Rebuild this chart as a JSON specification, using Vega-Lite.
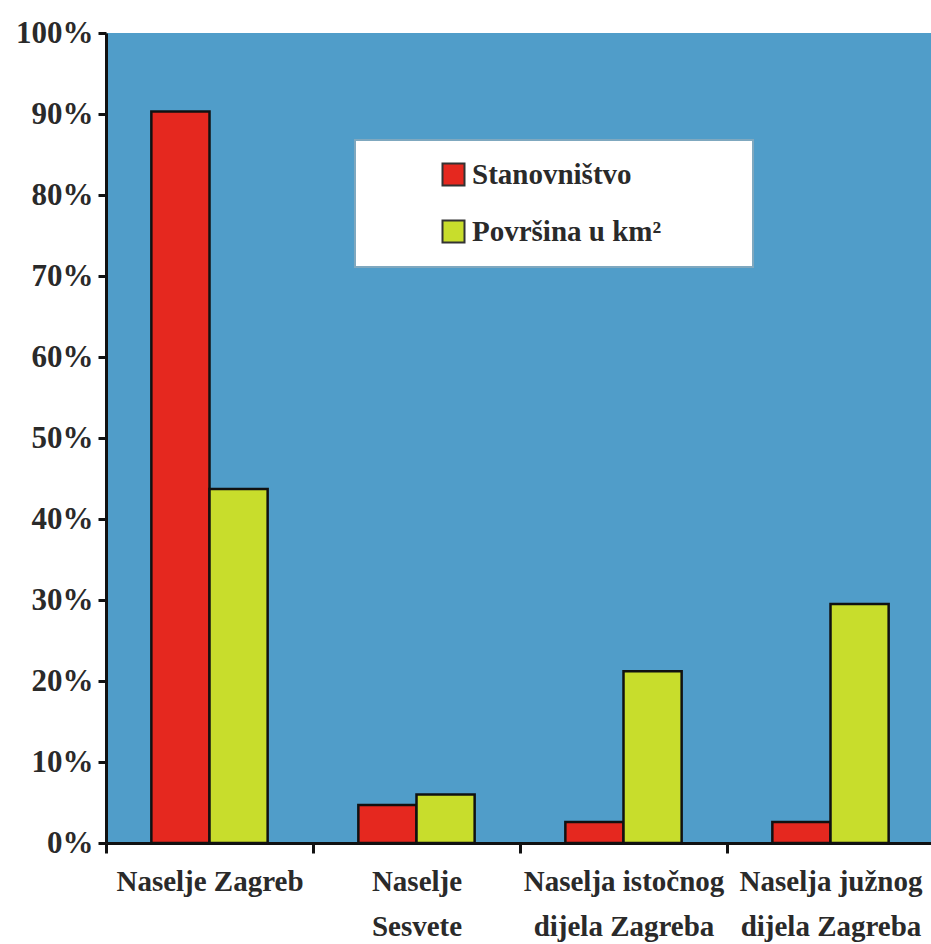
{
  "$schema": "https://vega.github.io/schema/vega-lite/v6.json",
  "autosize": "none",
  "width": 828,
  "height": 810,
  "padding": {"left": 106, "top": 33, "right": 0, "bottom": 101},
  "background": "white",
  "data": {
    "values": [
      {"kategorija": "Naselje Zagreb", "serija": "Stanovništvo", "vrijednost": 0.903},
      {"kategorija": "Naselje Zagreb", "serija": "Površina u km²", "vrijednost": 0.437},
      {"kategorija": "Naselje Sesvete", "serija": "Stanovništvo", "vrijednost": 0.047},
      {"kategorija": "Naselje Sesvete", "serija": "Površina u km²", "vrijednost": 0.060},
      {"kategorija": "Naselja istočnog dijela Zagreba", "serija": "Stanovništvo", "vrijednost": 0.026},
      {"kategorija": "Naselja istočnog dijela Zagreba", "serija": "Površina u km²", "vrijednost": 0.212},
      {"kategorija": "Naselja južnog dijela Zagreba", "serija": "Stanovništvo", "vrijednost": 0.026},
      {"kategorija": "Naselja južnog dijela Zagreba", "serija": "Površina u km²", "vrijednost": 0.295}
    ]
  },
  "mark": {"type": "bar", "stroke": "#111111", "strokeWidth": 2.5},
  "encoding": {
    "x": {
      "field": "kategorija",
      "type": "nominal",
      "sort": null,
      "scale": {"paddingInner": 0, "paddingOuter": 0},
      "axis": {
        "title": null,
        "labelAngle": 0,
        "labelExpr": "datum.label == 'Naselje Sesvete' ? ['Naselje', 'Sesvete'] : datum.label == 'Naselja istočnog dijela Zagreba' ? ['Naselja istočnog', 'dijela Zagreba'] : datum.label == 'Naselja južnog dijela Zagreba' ? ['Naselja južnog', 'dijela Zagreba'] : datum.label",
        "labelFont": "Liberation Serif",
        "labelFontWeight": "bold",
        "labelFontSize": 29,
        "labelColor": "#2a2a2a",
        "labelLineHeight": 45,
        "labelPadding": 14,
        "labelLimit": 300,
        "tickBand": "extent",
        "tickSize": 10,
        "tickWidth": 3,
        "tickColor": "#111111",
        "domainColor": "#111111",
        "domainWidth": 3,
        "grid": false
      }
    },
    "xOffset": {
      "field": "serija",
      "type": "nominal",
      "sort": "descending",
      "scale": {"paddingInner": 0, "paddingOuter": 0.78}
    },
    "y": {
      "field": "vrijednost",
      "type": "quantitative",
      "scale": {"domain": [0, 1], "nice": false},
      "axis": {
        "title": null,
        "format": ".0%",
        "values": [0, 0.1, 0.2, 0.3, 0.4, 0.5, 0.6, 0.7, 0.8, 0.9, 1],
        "labelFont": "Liberation Serif",
        "labelFontWeight": "bold",
        "labelFontSize": 31,
        "labelColor": "#2a2a2a",
        "labelPadding": 5,
        "tickSize": 8,
        "tickWidth": 3,
        "tickColor": "#111111",
        "domainColor": "#111111",
        "domainWidth": 3,
        "grid": false
      }
    },
    "color": {
      "field": "serija",
      "type": "nominal",
      "sort": "descending",
      "scale": {"range": ["#e5281f", "#c8dd2c"]},
      "legend": {
        "title": "\u00a0",
        "titleOrient": "right",
        "titlePadding": 72,
        "titleFontSize": 10,
        "orient": "none",
        "legendX": 249,
        "legendY": 107,
        "fillColor": "white",
        "strokeColor": "#7fa8bf",
        "padding": 20,
        "symbolOffset": 64,
        "symbolType": "square",
        "symbolSize": 484,
        "symbolStrokeColor": "#333333",
        "symbolStrokeWidth": 2,
        "labelFont": "Liberation Serif",
        "labelFontWeight": "bold",
        "labelFontSize": 29,
        "labelColor": "#2a2a2a",
        "labelOffset": 4,
        "labelLimit": 400,
        "rowPadding": 26
      }
    }
  },
  "config": {
    "view": {"stroke": null, "fill": "#509dc9"},
    "legend": {"strokeWidth": 2}
  }
}
